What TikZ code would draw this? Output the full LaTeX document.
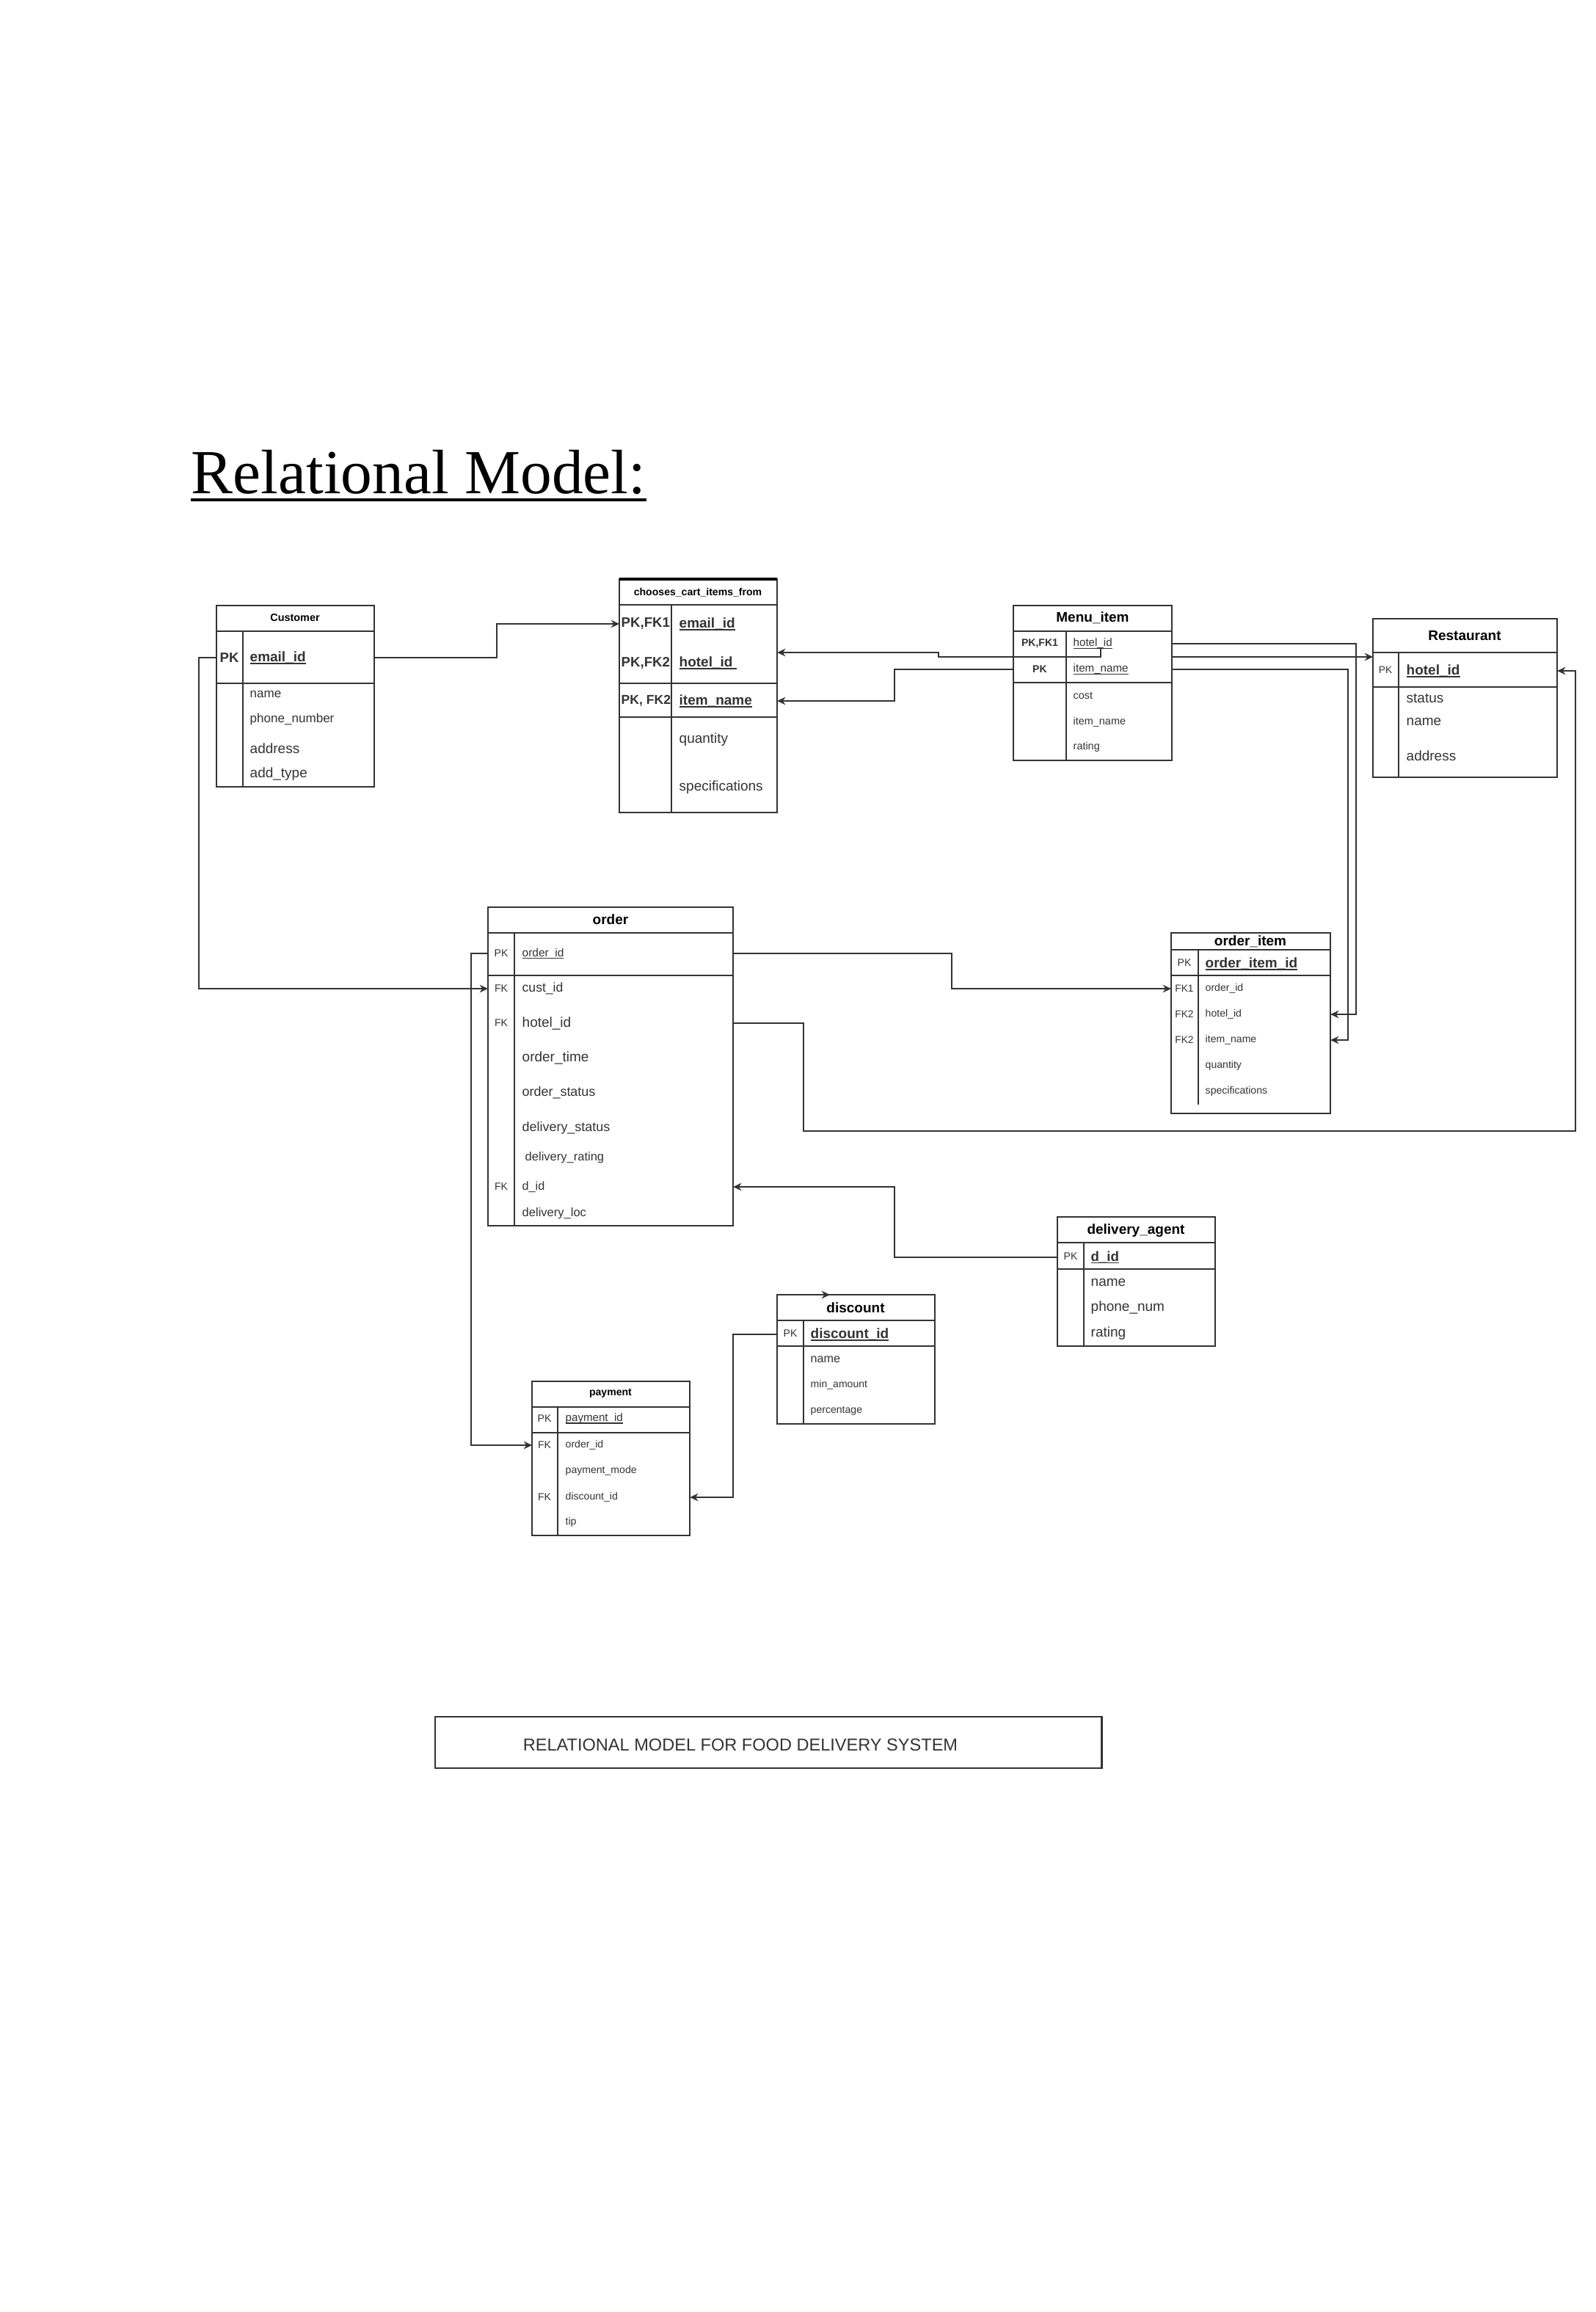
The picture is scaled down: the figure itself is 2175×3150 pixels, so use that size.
\documentclass[tikz,border=0pt]{standalone}
\usepackage{fontspec}
\setmainfont{Liberation Sans}
\newfontfamily\ttlfont{Liberation Serif}
\usetikzlibrary{arrows.meta,calc}
\newcommand{\myfs}[1]{\fontsize{#1pt}{#1pt}\selectfont}
\newcommand{\myul}[1]{\setbox0=\hbox{#1}\rlap{\rule[-0.17em]{\wd0}{0.07em}}\box0}
\begin{document}
\begin{tikzpicture}[x=0.01cm,y=-0.01cm,
  ln/.style={line width=0.6pt, draw=black!80},
  tbl/.style={ln, anchor=north west, inner sep=0pt, outer sep=0pt},
  fld/.style={anchor=west, inner sep=0pt, text=black!80},
  key/.style={anchor=center, inner sep=0pt, text=black!80},
  ttl/.style={anchor=center, inner sep=0pt, text=black},
  arr/.style={ln, -{Stealth[length=3.2pt,width=3pt]}}]
\path[use as bounding box, fill=white] (0,0) rectangle (2175,3150);

% title
\node[anchor=base west, inner sep=0pt] (title) at (260,672) {\ttlfont\myfs{24.3}Relational Model:};
\draw[line width=1pt] ([yshift=-2.6pt]title.base west) -- ([yshift=-2.6pt]title.base east);

% Customer
\node[tbl, minimum width=2.15cm, minimum height=2.47cm] (cust) at (295,825) {};
\draw[ln] (295,860) -- (510,860) (295,931) -- (510,931) (331,860) -- (331,1072);
\node[ttl] (cT) at (402,842) {\bfseries\myfs{4.1}Customer};
\node[fld] (cPK) at (299,896) {\bfseries\myfs{5.3}PK};
\node[fld] (cEmail) at (340,896) {\bfseries\myfs{5.4}\myul{email\_id}};
\node[fld] (cName) at (340,946) {\myfs{4.85}name};
\node[fld] (cPhone) at (340,980) {\myfs{4.85}phone\_number};
\node[fld] (cAddr) at (340,1020) {\myfs{5.4}address};
\node[fld] (cAddT) at (340,1055) {\myfs{5.4}add\_type};

% chooses_cart_items_from
\node[tbl, minimum width=2.15cm, minimum height=3.18cm] (ccit) at (844,789) {};
\draw[line width=1.3pt] (844,789) -- (1059,789);
\draw[ln] (844,824) -- (1059,824) (844,931) -- (1059,931) (844,977) -- (1059,977) (915,824) -- (915,1107);
\node[ttl] (chT) at (951,807) {\bfseries\myfs{4}chooses\_cart\_items\_from};
\node[fld] (chK1) at (846,850) {\bfseries\myfs{5.3}PK,FK1};
\node[fld] (chEmail) at (925,850) {\bfseries\myfs{5.4}\myul{email\_id}};
\node[fld] (chK2) at (846,903) {\bfseries\myfs{5.3}PK,FK2};
\node[fld] (chHotel) at (925,903) {\bfseries\myfs{5.4}\myul{hotel\_id\ }};
\node[fld] (chK3) at (846,955) {\bfseries\myfs{5.0}PK, FK2};
\node[fld] (chItem) at (925,955) {\bfseries\myfs{5.4}\myul{item\_name}};
\node[fld] (chQty) at (925,1008) {\myfs{5.4}quantity};
\node[fld] (chSpec) at (925,1073) {\myfs{5.4}specifications};

% Menu_item
\node[tbl, minimum width=2.16cm, minimum height=2.11cm] (menu) at (1381,825) {};
\draw[ln] (1381,860) -- (1597,860) (1381,930) -- (1597,930) (1453,860) -- (1453,1036);
\node[ttl] (mT) at (1489,842) {\bfseries\myfs{5.4}Menu\_item};
\node[key] (mK1) at (1417,877) {\bfseries\myfs{4}PK,FK1};
\node[fld] (mHotel) at (1462,877) {\myfs{4.3}\myul{hotel\_id}};
\node[key] (mK2) at (1417,912) {\bfseries\myfs{4}PK};
\node[fld] (mItem) at (1462,912) {\myfs{4.3}\myul{item\_name}};
\node[fld] (mCost) at (1462,948) {\myfs{4.1}cost};
\node[fld] (mItem2) at (1462,984) {\myfs{4.1}item\_name};
\node[fld] (mRate) at (1462,1018) {\myfs{4.1}rating};

% Restaurant
\node[tbl, minimum width=2.51cm, minimum height=2.16cm] (rest) at (1871,843) {};
\draw[ln] (1871,889) -- (2122,889) (1871,936) -- (2122,936) (1906,889) -- (1906,1059);
\node[ttl] (rT) at (1996,866) {\bfseries\myfs{5.4}Restaurant};
\node[key] (rPK) at (1888,913) {\myfs{3.9}PK};
\node[fld] (rHotel) at (1916,914) {\bfseries\myfs{5.4}\myul{hotel\_id}};
\node[fld] (rStatus) at (1916,951) {\myfs{5.4}status};
\node[fld] (rName) at (1916,983) {\myfs{5.4}name};
\node[fld] (rAddr) at (1916,1030) {\myfs{5.4}address};

% order
\node[tbl, minimum width=3.34cm, minimum height=4.34cm] (order) at (665,1236) {};
\draw[ln] (665,1271) -- (999,1271) (665,1329) -- (999,1329) (701,1271) -- (701,1670);
\node[ttl] (oT) at (832,1253) {\bfseries\myfs{5.4}order};
\node[key] (oPK) at (683,1299) {\myfs{4}PK};
\node[fld] (oOid) at (711,1299) {\myfs{4.4}\myul{order\_id}};
\node[key] (oFK1) at (683,1347) {\myfs{4}FK};
\node[fld] (oCust) at (711,1347) {\myfs{5}cust\_id};
\node[key] (oFK2) at (683,1394) {\myfs{4}FK};
\node[fld] (oHotel) at (711,1394) {\myfs{5.4}hotel\_id};
\node[fld] (oTime) at (711,1441) {\myfs{5.4}order\_time};
\node[fld] (oStat) at (711,1489) {\myfs{5.1}order\_status};
\node[fld] (oDStat) at (711,1537) {\myfs{5.1}delivery\_status};
\node[fld] (oDRate) at (715,1577) {\myfs{4.7}delivery\_rating};
\node[key] (oFK3) at (683,1617) {\myfs{4}FK};
\node[fld] (oDid) at (711,1617) {\myfs{4.6}d\_id};
\node[fld] (oLoc) at (711,1653) {\myfs{4.7}delivery\_loc};

% order_item
\node[tbl, minimum width=2.17cm, minimum height=2.46cm] (oi) at (1596,1271) {};
\draw[ln] (1596,1294) -- (1813,1294) (1596,1329) -- (1813,1329) (1633,1294) -- (1633,1505);
\node[ttl] (oiT) at (1704,1283) {\bfseries\myfs{5.4}order\_item};
\node[key] (oiPK) at (1614,1312) {\myfs{4}PK};
\node[fld] (oiId) at (1642,1313) {\bfseries\myfs{5.4}\myul{order\_item\_id}};
\node[key] (oiK1) at (1614,1347) {\myfs{3.9}FK1};
\node[fld] (oiOid) at (1642,1347) {\myfs{4}order\_id};
\node[key] (oiK2) at (1614,1382) {\myfs{3.9}FK2};
\node[fld] (oiHotel) at (1642,1382) {\myfs{4}hotel\_id};
\node[key] (oiK3) at (1614,1417) {\myfs{3.9}FK2};
\node[fld] (oiItem) at (1642,1417) {\myfs{4}item\_name};
\node[fld] (oiQty) at (1642,1452) {\myfs{4}quantity};
\node[fld] (oiSpec) at (1642,1487) {\myfs{4}specifications};

% delivery_agent
\node[tbl, minimum width=2.15cm, minimum height=1.76cm] (da) at (1441,1658) {};
\draw[ln] (1441,1693) -- (1656,1693) (1441,1729) -- (1656,1729) (1477,1693) -- (1477,1834);
\node[ttl] (daT) at (1548,1677) {\bfseries\myfs{5.4}delivery\_agent};
\node[key] (daPK) at (1459,1712) {\myfs{4}PK};
\node[fld] (daId) at (1486,1713) {\bfseries\myfs{5.3}\myul{d\_id}};
\node[fld] (daName) at (1486,1747) {\myfs{5.4}name};
\node[fld] (daPhone) at (1486,1782) {\myfs{5.4}phone\_num};
\node[fld] (daRate) at (1486,1817) {\myfs{5.4}rating};

% discount
\node[tbl, minimum width=2.15cm, minimum height=1.76cm] (disc) at (1059,1764) {};
\draw[ln] (1059,1799) -- (1274,1799) (1059,1834) -- (1274,1834) (1095,1799) -- (1095,1940);
\node[ttl] (dT) at (1166,1782) {\bfseries\myfs{5.4}discount};
\node[key] (dPK) at (1077,1817) {\myfs{4}PK};
\node[fld] (dId) at (1104,1818) {\bfseries\myfs{5.4}\myul{discount\_id}};
\node[fld] (dName) at (1104,1852) {\myfs{4.6}name};
\node[fld] (dMin) at (1104,1887) {\myfs{4}min\_amount};
\node[fld] (dPct) at (1104,1922) {\myfs{4}percentage};

% payment
\node[tbl, minimum width=2.15cm, minimum height=2.10cm] (pay) at (725,1882) {};
\draw[ln] (725,1917) -- (940,1917) (725,1952) -- (940,1952) (760,1917) -- (760,2092);
\node[ttl] (pT) at (832,1898) {\bfseries\myfs{4}payment};
\node[key] (pPK) at (742,1933) {\myfs{4}PK};
\node[fld] (pId) at (770,1933) {\myfs{4.3}\myul{payment\_id}};
\node[key] (pFK1) at (742,1969) {\myfs{4}FK};
\node[fld] (pOid) at (770,1969) {\myfs{4}order\_id};
\node[fld] (pMode) at (770,2004) {\myfs{4}payment\_mode};
\node[key] (pFK2) at (742,2040) {\myfs{4}FK};
\node[fld] (pDisc) at (770,2040) {\myfs{4}discount\_id};
\node[fld] (pTip) at (770,2074) {\myfs{4}tip};

% caption
\node[tbl, minimum width=9.08cm, minimum height=0.70cm] (cap) at (593,2339) {};
\node[inner sep=0pt, text=black!80] (capT) at (1009,2377) {\myfs{6.7}RELATIONAL MODEL FOR FOOD DELIVERY SYSTEM};

% connectors
\coordinate (mHk) at (1500,883);
\draw[arr] (cust.east |- cPK) -| ($(ccit.west |- chEmail)+(-167,0)$) -- (ccit.west |- chEmail);
\draw[arr] (cust.west |- cPK) -| ($(order.west |- oCust)+(-394,0)$) -- (order.west |- oCust);
\draw[arr] (mHk) |- (1279,895) |- ($(ccit.north east)+(0,100)$);
\draw[arr] (menu.west |- mK2) -| ($(ccit.east |- chItem)+(160,0)$) -- (ccit.east |- chItem);
\draw[arr] (menu.east |- mHotel) -| ($(oi.east |- oiHotel)+(35,0)$) -- (oi.east |- oiHotel);
\draw[arr] ($(menu.north east)+(0,70)$) -- ($(rest.west |- menu.north east)+(0,70)$);
\draw[arr] (menu.east |- mItem) -| ($(oi.east |- oiItem)+(24,0)$) -- (oi.east |- oiItem);
\draw[arr] (order.east |- oOid) -| ($(oi.west |- oiOid)+(-299,0)$) -- (oi.west |- oiOid);
\draw[arr] (order.east |- oHotel) -| (1095,1541) -| ($(rest.east |- rHotel)+(25,0)$) -- (rest.east |- rHotel);
\draw[arr] (da.west |- daId) -| ($(order.east |- oDid)+(220,0)$) -- (order.east |- oDid);
\draw[arr] (order.west |- oOid) -| ($(pay.west |- pOid)+(-83,0)$) -- (pay.west |- pOid);
\draw[arr] (disc.west |- dId) -| ($(pay.east |- pDisc)+(59,0)$) -- (pay.east |- pDisc);
\draw[arr] (disc.north west) -- ($(disc.north west)+(72,0)$);
\end{tikzpicture}
\end{document}
